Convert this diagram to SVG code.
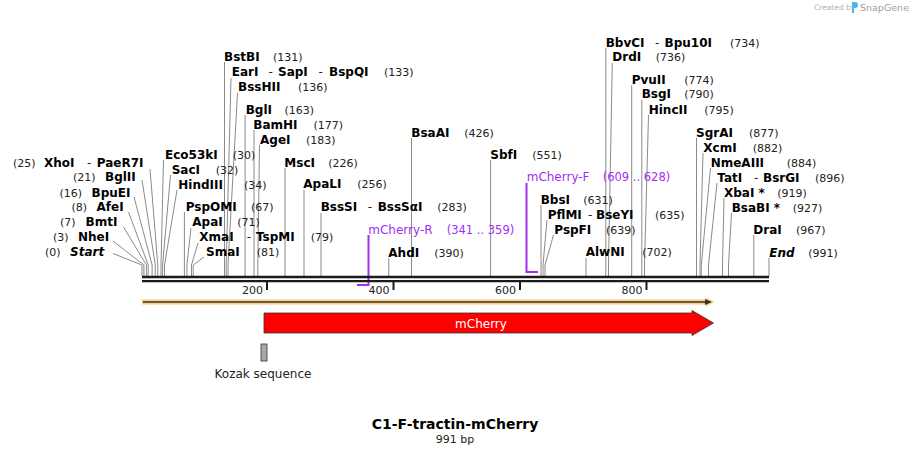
<svg xmlns="http://www.w3.org/2000/svg" width="911" height="455" viewBox="0 0 911 455">
<style>
text{font-family:"DejaVu Sans",Verdana,sans-serif;fill:#000}
.n{font-size:12px;font-weight:bold}
.i{font-size:12px;font-weight:bold;font-style:italic}
.p{font-size:11px;fill:#222}
.d{font-size:12px;fill:#222}
.pr{font-size:12px;fill:#a02ff0}
.prn{font-size:11.5px;fill:#a02ff0}
.cl{fill:none;stroke:#8a8a8a;stroke-width:1}
.pl{fill:none;stroke:#a02ff0;stroke-width:2}
.tk{stroke:#1a1a1a;stroke-width:2}
.rl{font-size:11px;fill:#222;text-anchor:end}
</style>
<rect width="911" height="455" fill="#fff"/>

<g id="watermark">
<text x="814" y="10" style="font-size:7.5px;fill:#b0b0b0">Created by</text>
<path d="M852,2 h3 a3,3 0 0 1 0,6 h-1 v5 h-2 z" fill="#4fb3f0"/>
<text x="860" y="10.5" style="font-size:9.5px;fill:#a0a0a0">SnapGene</text>
</g>

<g id="connectors">
<polyline class="cl" points="150,169 157.8,265 157.8,276"/>
<polyline class="cl" points="142,180 155.3,265 155.3,276"/>
<polyline class="cl" points="134,197 152.1,265 152.1,276"/>
<polyline class="cl" points="128.5,212 148.2,265 148.2,276"/>
<polyline class="cl" points="123.5,227 146.4,265 146.4,276"/>
<polyline class="cl" points="113,241 143.9,265 143.9,276"/>
<polyline class="cl" points="113,253.5 142,265 142,276"/>
<polyline class="cl" points="163.5,160 161,265 161,276"/>
<polyline class="cl" points="170.5,175 162.6,265 162.6,276"/>
<polyline class="cl" points="177,190 164.5,265 164.5,276"/>
<polyline class="cl" points="184.4,212 184.4,276"/>
<polyline class="cl" points="191,228 186.9,265 186.9,276"/>
<polyline class="cl" points="198,243 191.5,265 191.5,276"/>
<polyline class="cl" points="204,257 193.2,265 193.2,276"/>
<polyline class="cl" points="224.5,62 224.5,276"/>
<polyline class="cl" points="231,78 226.2,265 226.2,276"/>
<polyline class="cl" points="237.5,93 228,265 228,276"/>
<polyline class="cl" points="245.1,115 245.1,276"/>
<polyline class="cl" points="254,130 254,276"/>
<polyline class="cl" points="259.5,145 257.8,265 257.8,276"/>
<polyline class="cl" points="285,168 285,276"/>
<polyline class="cl" points="304,190 304,276"/>
<polyline class="cl" points="321,213 321,276"/>
<polyline class="cl" points="388.8,258 388.8,276"/>
<polyline class="cl" points="411.5,138 411.5,276"/>
<polyline class="cl" points="490.6,160 490.6,276"/>
<polyline class="cl" points="541,205 541,276"/>
<polyline class="cl" points="547,220 543,265 543,276"/>
<polyline class="cl" points="553.5,235 545,265 545,276"/>
<polyline class="cl" points="586,258 586,276"/>
<polyline class="cl" points="605.8,48 605.8,276"/>
<polyline class="cl" points="612.3,63 608.5,265 608.5,276"/>
<polyline class="cl" points="631.7,85 631.7,276"/>
<polyline class="cl" points="641.8,100 641.8,276"/>
<polyline class="cl" points="648.5,115 644.5,265 644.5,276"/>
<polyline class="cl" points="696.5,138 696.5,276"/>
<polyline class="cl" points="703,153 700,265 700,276"/>
<polyline class="cl" points="710.5,168 701.3,265 701.3,276"/>
<polyline class="cl" points="717,183 708.5,265 708.5,276"/>
<polyline class="cl" points="724,198 722.5,265 722.5,276"/>
<polyline class="cl" points="731.5,213 728.5,265 728.5,276"/>
<polyline class="cl" points="753.8,235 753.8,276"/>
<polyline class="cl" points="769,258 769,276"/>
<polyline class="pl" points="368.5,235 368.5,285 357,285"/>
<polyline class="pl" points="526.5,183 526.5,272 538,272"/>
</g>

<g id="backbone">
<line x1="142" y1="277" x2="769" y2="277" stroke="#1a1a1a" stroke-width="2.4"/>
<line x1="142" y1="281.2" x2="769" y2="281.2" stroke="#1a1a1a" stroke-width="2.2"/>
<line class="tk" x1="267" y1="282" x2="267" y2="290"/>
<line class="tk" x1="393.5" y1="282" x2="393.5" y2="290"/>
<line class="tk" x1="520" y1="282" x2="520" y2="290"/>
<line class="tk" x1="646.5" y1="282" x2="646.5" y2="290"/>
<text class="rl" x="263" y="293.5">200</text>
<text class="rl" x="389.5" y="293.5">400</text>
<text class="rl" x="516" y="293.5">600</text>
<text class="rl" x="642.5" y="293.5">800</text>
</g>

<g id="e25"><text class="p" x="13" y="167">(25)</text><text class="n" x="44" y="167">XhoI</text><text class="d" x="87" y="167">-</text><text class="n" x="96.7" y="167">PaeR7I</text></g>
<g id="e21"><text class="p" x="73" y="181">(21)</text><text class="n" x="105" y="181">BglII</text></g>
<g id="e16"><text class="p" x="59.5" y="197">(16)</text><text class="n" x="91.5" y="197">BpuEI</text></g>
<g id="e8"><text class="p" x="71.5" y="211">(8)</text><text class="n" x="96.5" y="211">AfeI</text></g>
<g id="e7"><text class="p" x="60" y="225.5">(7)</text><text class="n" x="85.5" y="225.5">BmtI</text></g>
<g id="e3"><text class="p" x="53" y="241">(3)</text><text class="n" x="78" y="241">NheI</text></g>
<g id="start"><text class="p" x="45" y="256">(0)</text><text class="i" x="70" y="256">Start</text></g>

<g id="eco53ki"><text class="n" x="165" y="158.5">Eco53kI</text><text class="p" x="232.7" y="158.5">(30)</text></g>
<g id="saci"><text class="n" x="171.7" y="173.5">SacI</text><text class="p" x="215.7" y="173.5">(32)</text></g>
<g id="hindiii"><text class="n" x="178.3" y="188.5">HindIII</text><text class="p" x="244" y="188.5">(34)</text></g>
<g id="pspomi"><text class="n" x="185.7" y="210.5">PspOMI</text><text class="p" x="251" y="210.5">(67)</text></g>
<g id="apai"><text class="n" x="192.3" y="226">ApaI</text><text class="p" x="237.3" y="226">(71)</text></g>
<g id="xmai"><text class="n" x="199.3" y="241">XmaI</text><text class="d" x="246.7" y="241">-</text><text class="n" x="256" y="241">TspMI</text><text class="p" x="310.7" y="241">(79)</text></g>
<g id="smai"><text class="n" x="206" y="256">SmaI</text><text class="p" x="256.7" y="256">(81)</text></g>
<g id="bstbi"><text class="n" x="224" y="61">BstBI</text><text class="p" x="273" y="61">(131)</text></g>
<g id="eari"><text class="n" x="231.7" y="76">EarI</text><text class="d" x="268.5" y="76">-</text><text class="n" x="278" y="76">SapI</text><text class="d" x="318.5" y="76">-</text><text class="n" x="329" y="76">BspQI</text><text class="p" x="384" y="76">(133)</text></g>
<g id="bsshii"><text class="n" x="238" y="91">BssHII</text><text class="p" x="298" y="91">(136)</text></g>
<g id="bgli"><text class="n" x="245.7" y="113.5">BglI</text><text class="p" x="284.5" y="113.5">(163)</text></g>
<g id="bamhi"><text class="n" x="253.3" y="128.5">BamHI</text><text class="p" x="313.5" y="128.5">(177)</text></g>
<g id="agei"><text class="n" x="260" y="143.5">AgeI</text><text class="p" x="306" y="143.5">(183)</text></g>
<g id="msci"><text class="n" x="284.3" y="167">MscI</text><text class="p" x="328.3" y="167">(226)</text></g>
<g id="apali"><text class="n" x="303.3" y="188">ApaLI</text><text class="p" x="357.3" y="188">(256)</text></g>
<g id="bsssi"><text class="n" x="320.7" y="211">BssSI</text><text class="d" x="367.7" y="211">-</text><text class="n" x="377.7" y="211">BssSαI</text><text class="p" x="437.3" y="211">(283)</text></g>
<g id="ahdi"><text class="n" x="388.3" y="256.5">AhdI</text><text class="p" x="434.3" y="256.5">(390)</text></g>
<g id="bsaai"><text class="n" x="411.3" y="136.5">BsaAI</text><text class="p" x="464.3" y="136.5">(426)</text></g>
<g id="sbfi"><text class="n" x="490.3" y="158.5">SbfI</text><text class="p" x="532.3" y="158.5">(551)</text></g>
<g id="bbsi"><text class="n" x="540.7" y="203.5">BbsI</text><text class="p" x="583.3" y="203.5">(631)</text></g>
<g id="pflmi"><text class="n" x="547.7" y="218.5">PflMI</text><text class="d" x="588" y="218.5">-</text><text class="n" x="596" y="218.5">BseYI</text><text class="p" x="655" y="218.5">(635)</text></g>
<g id="pspfi"><text class="n" x="554.3" y="234">PspFI</text><text class="p" x="606" y="234">(639)</text></g>
<g id="alwni"><text class="n" x="585.7" y="256">AlwNI</text><text class="p" x="642.3" y="256">(702)</text></g>
<g id="bbvci"><text class="n" x="605.7" y="46.5">BbvCI</text><text class="d" x="655" y="46.5">-</text><text class="n" x="664.5" y="46.5">Bpu10I</text><text class="p" x="730" y="46.5">(734)</text></g>
<g id="drdi"><text class="n" x="612.3" y="61">DrdI</text><text class="p" x="655.7" y="61">(736)</text></g>
<g id="pvuii"><text class="n" x="631.7" y="83.5">PvuII</text><text class="p" x="684.3" y="83.5">(774)</text></g>
<g id="bsgi"><text class="n" x="641.7" y="98">BsgI</text><text class="p" x="684.3" y="98">(790)</text></g>
<g id="hincii"><text class="n" x="648.7" y="113.5">HincII</text><text class="p" x="704.3" y="113.5">(795)</text></g>
<g id="sgrai"><text class="n" x="696" y="136.5">SgrAI</text><text class="p" x="749" y="136.5">(877)</text></g>
<g id="xcmi"><text class="n" x="703.3" y="151.5">XcmI</text><text class="p" x="752.7" y="151.5">(882)</text></g>
<g id="nmeaiii"><text class="n" x="710.7" y="166.5">NmeAIII</text><text class="p" x="786.7" y="166.5">(884)</text></g>
<g id="tati"><text class="n" x="717.3" y="181.5">TatI</text><text class="d" x="754" y="181.5">-</text><text class="n" x="763" y="181.5">BsrGI</text><text class="p" x="815" y="181.5">(896)</text></g>
<g id="xbai"><text class="n" x="724" y="196.5">XbaI *</text><text class="p" x="777.3" y="196.5">(919)</text></g>
<g id="bsabi"><text class="n" x="731.7" y="212">BsaBI *</text><text class="p" x="792.7" y="212">(927)</text></g>
<g id="drai"><text class="n" x="753.3" y="233.5">DraI</text><text class="p" x="796" y="233.5">(967)</text></g>
<g id="end"><text class="i" x="769.3" y="257">End</text><text class="p" x="808.3" y="257">(991)</text></g>

<g id="mcherry-r"><text class="pr" x="368.3" y="233.5">mCherry-R</text><text class="prn" x="446.7" y="233.5">(341 .. 359)</text></g>
<g id="mcherry-f"><text class="pr" x="526.7" y="181">mCherry-F</text><text class="prn" x="602.7" y="181">(609 .. 628)</text></g>

<g id="orf">
<polygon points="142,299.5 706,299.5 706,297.5 714.5,302 706,306.5 706,304.5 142,304.5" fill="#fbcd80"/>
<line x1="143" y1="302" x2="707" y2="302" stroke="#333" stroke-width="1.5"/>
<polygon points="705,299 712,302 705,305" fill="#333"/>
</g>

<g id="mcherry">
<polygon points="264,313 692,313 692,310.5 713.5,323 692,335.5 692,333 264,333" fill="#ff0000" stroke="#333" stroke-width="0.8"/>
<text x="481" y="327.5" style="font-size:12px;fill:#fff;text-anchor:middle">mCherry</text>
</g>

<g id="kozak">
<rect x="261" y="344" width="6" height="17" fill="#a6a9ae" stroke="#333" stroke-width="0.8"/>
<text class="d" x="263" y="378" style="text-anchor:middle">Kozak sequence</text>
</g>

<g id="title">
<text x="455" y="429" style="font-size:14px;font-weight:bold;text-anchor:middle">C1-F-tractin-mCherry</text>
<text x="455" y="443" style="font-size:11px;fill:#222;text-anchor:middle">991 bp</text>
</g>
</svg>
